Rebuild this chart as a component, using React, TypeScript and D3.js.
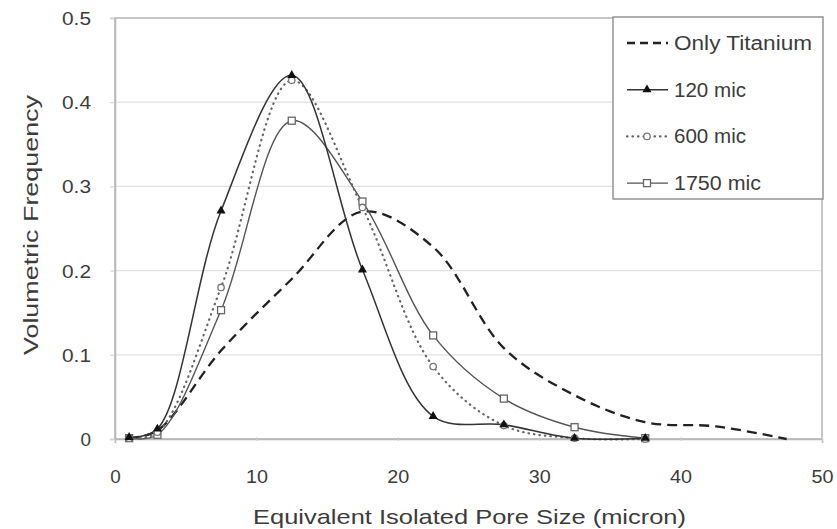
import React, { useEffect, useRef } from 'react';
import * as d3 from 'd3';

// pore size bins (micron)
const binX = [1, 3, 7.5, 12.5, 17.5, 22.5, 27.5, 32.5, 37.5];
const titaniumX = [1, 3, 7.5, 12.5, 17.5, 22.5, 27.5, 32.5, 37.5, 42.5, 47.5];

const titaniumY = [0.001, 0.01, 0.105, 0.19, 0.27, 0.228, 0.108, 0.052, 0.02, 0.015, 0];
const mic120 = [0.002, 0.012, 0.271, 0.432, 0.201, 0.027, 0.017, 0.001, 0.001];
const mic600 = [0.001, 0.008, 0.18, 0.426, 0.275, 0.086, 0.016, 0.001, 0];
const mic1750 = [0.001, 0.005, 0.153, 0.378, 0.282, 0.123, 0.048, 0.014, 0.001];

const xTicks = [0, 10, 20, 30, 40, 50];
const yTicks = [0, 0.1, 0.2, 0.3, 0.4, 0.5];

const legendLabels = ['Only Titanium', '120 mic', '600 mic', '1750 mic'];
const legendWidths = [138, 72, 72, 87];

const FONT = '"Liberation Sans", Arial, sans-serif';
const TEXT = '#3c3c3c';

const App = () => {
    const svgRef = useRef(null);

    useEffect(() => {
        const W = 837;
        const H = 529;
        const margin = { top: 18, right: 15, bottom: 90, left: 115 };
        const width = W - margin.left - margin.right;
        const height = H - margin.top - margin.bottom;

        d3.select(svgRef.current).selectAll('*').remove();

        const root = d3.select(svgRef.current).attr('width', W).attr('height', H);
        root.append('rect').attr('width', W).attr('height', H).attr('fill', '#fff');

        const svg = root.append('g').attr('transform', `translate(${margin.left}, ${margin.top})`);

        const x = d3.scaleLinear().domain([0, 50]).range([0, width]);
        const y = d3.scaleLinear().domain([0, 0.5]).range([height, 0]);

        // gridlines
        svg
            .selectAll('.grid')
            .data(yTicks.filter(t => t > 0 && t < 0.5))
            .enter()
            .append('line')
            .attr('x1', 0)
            .attr('x2', width)
            .attr('y1', d => y(d))
            .attr('y2', d => y(d))
            .attr('stroke', '#e2e2e2')
            .attr('stroke-width', 1.3);

        // plot frame
        svg
            .append('rect')
            .attr('x', 0)
            .attr('y', 0)
            .attr('width', width)
            .attr('height', height)
            .attr('fill', 'none')
            .attr('stroke', '#b8b8b8')
            .attr('stroke-width', 1.6);

        // axes
        const xAxis = svg
            .append('g')
            .attr('transform', `translate(0, ${height})`)
            .call(d3.axisBottom(x).tickValues(xTicks).tickSize(4).tickPadding(27).tickFormat(d3.format('d')));
        const yAxis = svg
            .append('g')
            .call(d3.axisLeft(y).tickValues(yTicks).tickSize(5).tickPadding(22).tickFormat(d => (d === 0 ? '0' : d3.format('.1f')(d))));

        [xAxis, yAxis].forEach(a => {
            a.select('.domain').attr('stroke', '#b8b8b8').attr('stroke-width', 1.6);
            a.selectAll('.tick line').attr('stroke', '#cfcfcf');
            a.selectAll('text')
                .style('font-size', '18px')
                .style('font-family', FONT)
                .attr('fill', TEXT)
                .attr('lengthAdjust', 'spacingAndGlyphs');
        });
        xAxis.selectAll('text').attr('textLength', d => (d === 0 ? 10.5 : 22));
        yAxis.selectAll('text').attr('textLength', d => (d === 0 ? 10.5 : 29)).attr('x', -24).attr('dy', '0.36em');
        xAxis.selectAll('.tick line').attr('transform', 'translate(0,-2)');

        const line = d3
            .line()
            .x(d => x(d[0]))
            .y(d => y(d[1]))
            .curve(d3.curveCatmullRom.alpha(0.5));

        const zip = (xs, ys) => xs.map((v, i) => [v, ys[i]]);

        const series = [
            { key: 'ti', pts: zip(titaniumX, titaniumY), stroke: '#222', width: 2.3, dash: '10,6', marker: null },
            { key: '1750', pts: zip(binX, mic1750), stroke: '#555', width: 1.4, dash: null, marker: 'square' },
            { key: '600', pts: zip(binX, mic600), stroke: '#666', width: 2.2, dash: '0.5,5', marker: 'circle' },
            { key: '120', pts: zip(binX, mic120), stroke: '#333', width: 1.5, dash: null, marker: 'triangle' }
        ];

        const drawMarker = (g, kind, cx, cy) => {
            if (kind === 'triangle') {
                g.append('path')
                    .attr('d', d3.symbol(d3.symbolTriangle, 36)())
                    .attr('transform', `translate(${cx}, ${cy})`)
                    .attr('fill', '#111');
            } else if (kind === 'circle') {
                g.append('circle')
                    .attr('cx', cx)
                    .attr('cy', cy)
                    .attr('r', 3.2)
                    .attr('fill', '#fff')
                    .attr('stroke', '#777')
                    .attr('stroke-width', 1.3);
            } else if (kind === 'square') {
                g.append('rect')
                    .attr('x', cx - 3.5)
                    .attr('y', cy - 3.5)
                    .attr('width', 7)
                    .attr('height', 7)
                    .attr('fill', '#fff')
                    .attr('stroke', '#666')
                    .attr('stroke-width', 1.3);
            }
        };

        series.forEach(s => {
            const p = svg
                .append('path')
                .datum(s.pts)
                .attr('d', line)
                .attr('fill', 'none')
                .attr('stroke', s.stroke)
                .attr('stroke-width', s.width);
            if (s.dash) p.attr('stroke-dasharray', s.dash);
            if (s.marker === 'circle') p.attr('stroke-linecap', 'round');
        });

        series.forEach(s => {
            if (!s.marker) return;
            const g = svg.append('g');
            s.pts.forEach(d => drawMarker(g, s.marker, x(d[0]), y(d[1])));
        });

        // legend
        const lg = root.append('g').attr('transform', 'translate(613, 17)');
        lg.append('rect')
            .attr('width', 210)
            .attr('height', 182)
            .attr('fill', '#fff')
            .attr('stroke', '#8c8c8c')
            .attr('stroke-width', 1.4);

        legendLabels.forEach((label, i) => {
            const s = series.find(d => d.key === ['ti', '120', '600', '1750'][i]);
            const base = 33 + i * 46.7;
            const ly = base - 7;
            const l = lg
                .append('line')
                .attr('x1', 14)
                .attr('x2', 55)
                .attr('y1', ly)
                .attr('y2', ly)
                .attr('stroke', s.stroke)
                .attr('stroke-width', s.width);
            if (s.dash) l.attr('stroke-dasharray', s.key === 'ti' ? '8,5' : s.dash);
            if (s.marker === 'circle') l.attr('stroke-linecap', 'round');
            if (s.marker) drawMarker(lg, s.marker, 34, ly);
            lg.append('text')
                .attr('x', 61)
                .attr('y', base)
                .style('font-size', '20px')
                .style('font-family', FONT)
                .attr('fill', TEXT)
                .attr('textLength', legendWidths[i])
                .attr('lengthAdjust', 'spacingAndGlyphs')
                .text(label);
        });

        // axis titles
        root.append('text')
            .attr('x', 253)
            .attr('y', 524)
            .style('font-size', '21px')
            .style('font-family', FONT)
            .attr('fill', TEXT)
            .attr('textLength', 433)
            .attr('lengthAdjust', 'spacingAndGlyphs')
            .text('Equivalent Isolated Pore Size (micron)');

        root.append('text')
            .attr('transform', 'rotate(-90)')
            .attr('x', -355)
            .attr('y', 38)
            .style('font-size', '21px')
            .style('font-family', FONT)
            .attr('fill', TEXT)
            .attr('textLength', 260)
            .attr('lengthAdjust', 'spacingAndGlyphs')
            .text('Volumetric Frequency');
    }, []);

    return <svg ref={svgRef} style={{ position: 'absolute', left: 0, top: 0 }}></svg>;
};

export default App;
